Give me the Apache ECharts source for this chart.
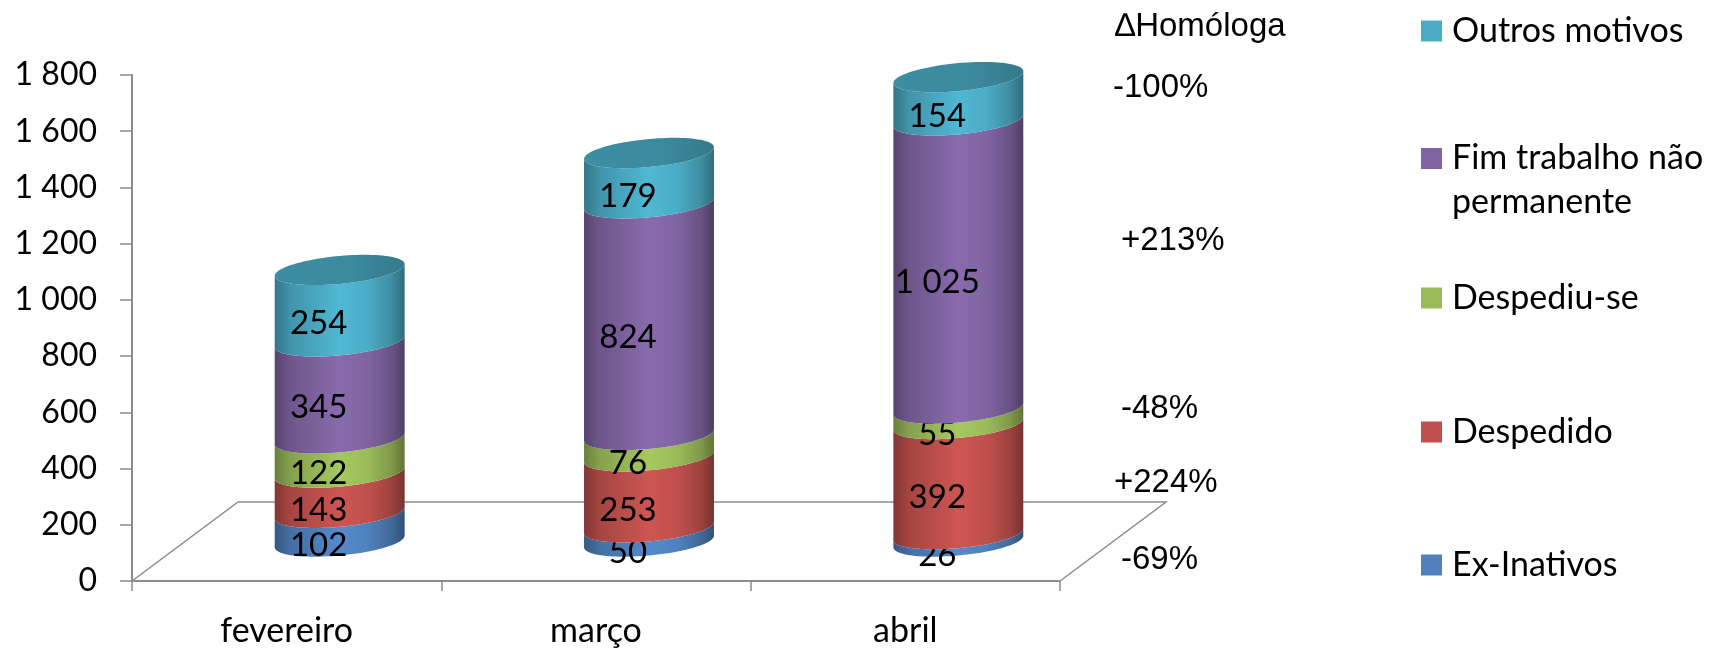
<!DOCTYPE html>
<html>
<head>
<meta charset="utf-8">
<script src="https://cdn.jsdelivr.net/npm/echarts@6/dist/echarts.min.js"></script>
<style>
  html, body { margin: 0; padding: 0; background: #ffffff; }
  #chart { width: 1714px; height: 648px; }
</style>
</head>
<body>
<div id="chart"></div>
<script>
// Categories and stacked values (bottom to top of each cylinder)
const meses = ['fevereiro', 'março', 'abril'];
const exInativos = [102, 50, 26];
const despedido = [143, 253, 392];
const despediuSe = [122, 76, 55];
const fimTrabalho = [345, 824, 1025];
const outrosMotivos = [254, 179, 154];

const nomesSeries = ['Ex-Inativos', 'Despedido', 'Despediu-se', 'Fim trabalho não permanente', 'Outros motivos'];
const valoresSeries = [exInativos, despedido, despediuSe, fimTrabalho, outrosMotivos];
const coresSeries = ['#4F81BD', '#C0504D', '#9BBB59', '#8064A2', '#4BACC6'];

// Year-on-year change, one per series (same order)
const variacaoHomologa = ['-69%', '+224%', '-48%', '+213%', '-100%'];
const tituloVariacao = '\u2206Homóloga';

// Value axis
const yMin = 0, yMax = 1800, yStep = 200;

// Pseudo-3D layout constants (pixels)
const DEPTH_X = 106, DEPTH_Y = 79;
const ELLIPSE_B = 14, SHEAR = -0.09, BAR_RATIO = 0.21;
const GRID_COLOR = '#8c8c8c';
const FONT_MAIN = 'Lato, "Open Sans", sans-serif';
const FONT_NOTE = '"Liberation Sans", Arial, sans-serif';

function fmtMilhar(v) {
  return String(v).replace(/\B(?=(\d{3})+(?!\d))/g, ' ');
}

function shade(hex, f) {
  const n = parseInt(hex.slice(1), 16);
  const ch = [(n >> 16) & 255, (n >> 8) & 255, n & 255].map(c => Math.max(0, Math.min(255, Math.round(c * f))));
  return 'rgb(' + ch.join(',') + ')';
}

function sideGradient(hex) {
  return {
    type: 'linear', x: 0, y: 0, x2: 1, y2: 0,
    colorStops: [
      { offset: 0, color: shade(hex, 0.68) },
      { offset: 0.12, color: shade(hex, 0.86) },
      { offset: 0.5, color: shade(hex, 1.07) },
      { offset: 0.72, color: shade(hex, 1.0) },
      { offset: 0.9, color: shade(hex, 0.82) },
      { offset: 1, color: shade(hex, 0.62) }
    ]
  };
}

function capGradient(hex) {
  return {
    type: 'linear', x: 0, y: 0, x2: 1, y2: 0,
    colorStops: [
      { offset: 0, color: shade(hex, 0.82) },
      { offset: 0.6, color: shade(hex, 0.8) },
      { offset: 1, color: shade(hex, 0.7) }
    ]
  };
}

// Running totals so each layer sits on the previous one
const bases = meses.map(() => 0);
const seriesData = valoresSeries.map(vals => vals.map((v, i) => {
  const item = [i, bases[i], bases[i] + v, v];
  bases[i] += v;
  return item;
}));

function cylinderRenderer(sIdx) {
  const isTop = sIdx === valoresSeries.length - 1;
  const color = coresSeries[sIdx];
  return function (params, api) {
    const i = api.value(0), lo = api.value(1), hi = api.value(2), val = api.value(3);
    const p0 = api.coord([i, lo]);
    const p1 = api.coord([i, hi]);
    const band = api.size([1, 0])[0];
    const a = band * BAR_RATIO;
    const b = ELLIPSE_B;
    const cx = p0[0] + DEPTH_X / 2;
    const yb = p0[1] - DEPTH_Y / 2;
    const yt = p1[1] - DEPTH_Y / 2;
    const N = 48;
    const pts = [];
    for (let k = 0; k <= N; k++) {
      const t = Math.PI * (1 - k / N);
      const x = a * Math.cos(t);
      pts.push([cx + x, yb + b * Math.sin(t) + SHEAR * x]);
    }
    for (let k = 0; k <= N; k++) {
      const t = Math.PI * k / N;
      const x = a * Math.cos(t);
      pts.push([cx + x, yt + b * Math.sin(t) + SHEAR * x]);
    }
    const children = [{
      type: 'polygon',
      shape: { points: pts },
      style: { fill: sideGradient(color) }
    }];
    if (isTop) {
      const cap = [];
      for (let k = 0; k < 2 * N; k++) {
        const t = Math.PI * k / N;
        const x = a * Math.cos(t);
        cap.push([cx + x, yt + b * Math.sin(t) + SHEAR * x]);
      }
      children.push({
        type: 'polygon',
        shape: { points: cap },
        style: { fill: capGradient(color) }
      });
    }
    children.push({
      type: 'text',
      x: cx - 21,
      y: (yb + yt) / 2 + b + 4,
      style: {
        text: fmtMilhar(val),
        fontFamily: FONT_MAIN,
        fontSize: 33,
        fill: '#000000',
        align: 'center',
        verticalAlign: 'middle'
      }
    });
    return { type: 'group', children: children };
  };
}

function floorRenderer(params, api) {
  const band = api.size([1, 0])[0];
  const c0 = api.coord([0, 0]);
  const c1 = api.coord([meses.length - 1, 0]);
  const L = c0[0] - band / 2, R = c1[0] + band / 2, y0 = c0[1];
  return {
    type: 'polyline',
    shape: { points: [[L, y0], [L + DEPTH_X, y0 - DEPTH_Y], [R + DEPTH_X, y0 - DEPTH_Y], [R, y0]] },
    style: { stroke: GRID_COLOR, lineWidth: 1.5, fill: null }
  };
}

const series = [{
  type: 'custom',
  name: 'piso',
  silent: true,
  z: 1,
  renderItem: floorRenderer,
  data: [[0, 0]],
  encode: { x: 0, y: 1 }
}].concat(valoresSeries.map((vals, s) => ({
  type: 'custom',
  name: nomesSeries[s],
  z: 2,
  itemStyle: { color: coresSeries[s] },
  renderItem: cylinderRenderer(s),
  data: seriesData[s],
  encode: { x: 0, y: [1, 2] }
})));

// Legend rows, top to bottom (swatch top in pixels)
const LEGEND_FONT = 34, LEGEND_LINE = 44;
const legendTops = [14, 148, 281, 415, 548];
const legendOrder = [4, 3, 2, 1, 0];
const legends = legendOrder.map((s, row) => {
  const twoLines = s === 3;
  // the wrapped entry keeps its first line level with the swatch
  const shift = twoLines ? 6.5 : 0;
  return {
    orient: 'vertical',
    left: 1421,
    top: legendTops[row] - shift,
    padding: 0,
    itemWidth: 21,
    itemHeight: 21,
    icon: 'rect',
    selectedMode: false,
    data: [{
      name: nomesSeries[s],
      textStyle: twoLines
        ? {
            padding: [LEGEND_LINE, 0, 0, 5],
            rich: { l: { fontFamily: FONT_MAIN, fontSize: LEGEND_FONT, lineHeight: LEGEND_LINE, color: '#000000' } }
          }
        : { lineHeight: 21, padding: [0, 0, 0, 5] }
    }],
    formatter: n => n === 'Fim trabalho não permanente' ? '{l|Fim trabalho não}\n{l|permanente}' : n,
    textStyle: { fontFamily: FONT_MAIN, fontSize: LEGEND_FONT, color: '#000000' }
  };
});

// Year-on-year notes beside the chart
const notePos = [[1121, 560], [1114, 483], [1121, 409], [1121, 241], [1113, 88]];
const graphics = [{
  type: 'text', x: 1115, y: 27,
  style: { text: tituloVariacao, font: '33px ' + FONT_NOTE, fill: '#000', verticalAlign: 'middle' }
}].concat(variacaoHomologa.map((t, s) => ({
  type: 'text', x: notePos[s][0], y: notePos[s][1],
  style: { text: t, font: '33px ' + FONT_NOTE, fill: '#000', verticalAlign: 'middle' }
})));

const chart = echarts.init(document.getElementById('chart'), null, { renderer: 'canvas' });
chart.setOption({
  animation: false,
  backgroundColor: '#ffffff',
  grid: { left: 132, right: 654, top: 75, bottom: 64.5, containLabel: false },
  xAxis: {
    type: 'category',
    data: meses,
    boundaryGap: true,
    axisLine: { show: true, lineStyle: { color: GRID_COLOR, width: 2 } },
    axisTick: { show: true, length: 10, lineStyle: { color: GRID_COLOR, width: 1.5 } },
    axisLabel: { margin: 33, fontFamily: FONT_MAIN, fontSize: 34, color: '#000000' },
    splitLine: { show: false }
  },
  yAxis: {
    type: 'value',
    min: yMin, max: yMax, interval: yStep,
    axisLine: { show: true, lineStyle: { color: GRID_COLOR, width: 2 } },
    axisTick: { show: true, length: 12, lineStyle: { color: GRID_COLOR, width: 1.5 } },
    axisLabel: { margin: 35, fontFamily: FONT_MAIN, fontSize: 32, color: '#000000', formatter: v => fmtMilhar(v) },
    splitLine: { show: false }
  },
  legend: legends,
  graphic: graphics,
  series: series
});
</script>
</body>
</html>
